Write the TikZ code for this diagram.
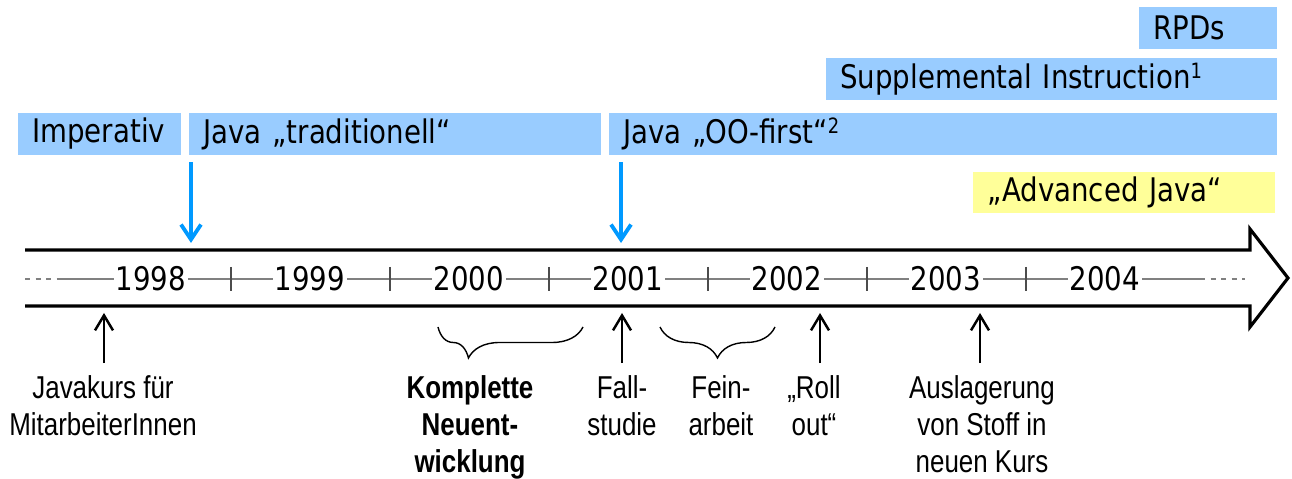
\documentclass[tikz,border=0pt]{standalone}
\usepackage{fontspec}
\setmainfont{DejaVu Sans}[FakeStretch=0.85]
\newfontfamily\narrowfont{Liberation Sans}[FakeStretch=0.82]
\usetikzlibrary{arrows.meta,decorations.pathreplacing}

\definecolor{barblue}{RGB}{153,204,255}
\definecolor{baryellow}{RGB}{255,255,153}
\definecolor{markblue}{RGB}{0,153,255}
\newcommand\fnmark[1]{\raisebox{0.55ex}{\fontsize{12pt}{12pt}\selectfont #1}}

\begin{document}
\begin{tikzpicture}[x=0.02cm, y=-0.02cm,
  bar/.style={fill=barblue, anchor=west, minimum height=0.84cm, inner xsep=0.28cm,
    inner ysep=0pt, align=left, font=\fontsize{18.5pt}{21pt}\selectfont},
  year/.style={fill=white, inner xsep=1pt, inner ysep=0pt, font=\fontsize{18.5pt}{21pt}\selectfont},
  tick/.style={black!70, line width=0.6pt},
  note/.style={anchor=north, align=center, inner sep=0pt,
    font=\narrowfont\fontsize{18pt}{21pt}\selectfont},
  bluearrow/.style={markblue, line width=2.2pt, -{Straight Barb[length=0.3cm,width=0.4cm]}},
  uparrow/.style={line width=1.4pt, -{Straight Barb[length=0.3cm,width=0.36cm]}},
  brace/.style={decorate, line width=0.8pt, decoration={brace, mirror, amplitude=0.62cm, aspect=#1}}]
  \useasboundingbox (0,0) rectangle (1292,479);

  % phases on top
  \node[bar, text width=2.20cm] (rpd) at (1139,28) {RPDs};
  \node[bar, text width=8.46cm] (si) at (826,79) {Supplemental Instruction\fnmark{1}};
  \node[bar, text width=2.70cm] (imp) at (18,134) {Imperativ};
  \node[bar, text width=7.68cm] (trad) at (189,134) {Java „traditionell“};
  \node[bar, text width=12.80cm] (oo) at (609,134) {Java „OO-first“\fnmark{2}};
  \node[bar, fill=baryellow, text width=5.48cm] (adv) at (973,192.5) {„Advanced Java“};

  % time arrow
  \draw[line width=1.8pt, line join=miter] (25,250) -- (1250,250) -- (1250,229) -- (1288,278)
    -- (1250,327) -- (1250,306) -- (25,306);
  \draw[gray, line width=1pt, dashed] (25,279) -- (60,279);
  \draw[gray, line width=1pt] (60,279) -- (1200,279);
  \draw[gray, line width=1pt, dashed] (1200,279) -- (1245,279);
  \foreach \i in {0,...,5}
    \draw[tick] ({231+159*\i},267) -- ({231+159*\i},291);
  \foreach \yr [count=\i from 0] in {1998,...,2004}
    \node[year] (y\yr) at ({151+159*\i},279) {\yr};

  % switches
  \coordinate (d1) at (191,243);
  \coordinate (d2) at (621,243);
  \draw[bluearrow, shorten <=0.14cm] (d1 |- trad.south) -- (d1);
  \draw[bluearrow, shorten <=0.14cm] (d2 |- oo.south) -- (d2);

  % events below
  \node[note] (kurs) at (103,375) {Javakurs für\\MitarbeiterInnen};
  \node[note, font=\narrowfont\bfseries\fontsize{18pt}{21pt}\selectfont] (neu) at (470,375)
    {Komplette\\Neuent-\\wicklung};
  \node[note] (fall) at (622,375) {Fall-\\studie};
  \node[note] (fein) at (721,375) {Fein-\\arbeit};
  \node[note] (roll) at (814,375) {„Roll\\out“};
  \node[note] (aus) at (982,375) {Auslagerung\\von Stoff in\\neuen Kurs};

  \coordinate (u1) at (104,313);
  \coordinate (u2) at (622,313);
  \coordinate (u3) at (820,313);
  \coordinate (u4) at (980,313);
  \draw[uparrow, shorten <=0.24cm] (u1 |- kurs.north) -- (u1);
  \draw[uparrow, shorten <=0.24cm] (u2 |- fall.north) -- (u2);
  \draw[uparrow, shorten <=0.24cm] (u3 |- roll.north) -- (u3);
  \draw[uparrow, shorten <=0.24cm] (u4 |- aus.north) -- (u4);

  \draw[brace=0.21] (438,327) -- (583,327);
  \draw[brace=0.5] (660,327) -- (775,327);
\end{tikzpicture}
\end{document}
